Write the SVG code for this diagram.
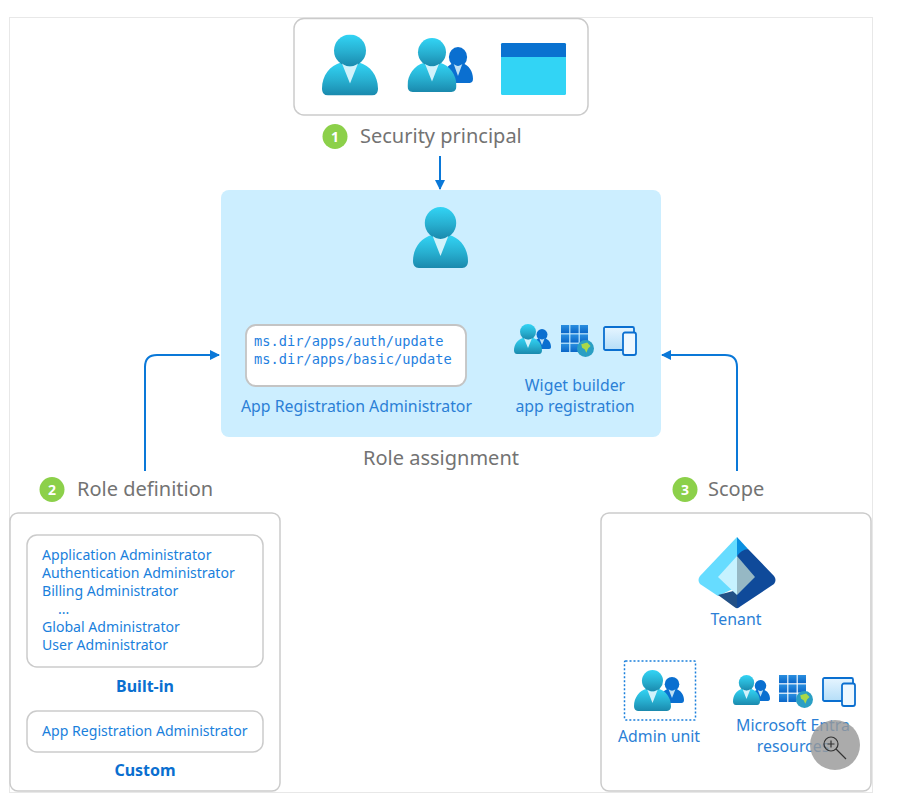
<svg xmlns="http://www.w3.org/2000/svg" xmlns:xlink="http://www.w3.org/1999/xlink" width="905" height="811" viewBox="0 0 905 811">
<style>
text{font-family:"Noto Sans","Open Sans","Liberation Sans",sans-serif}
.box{fill:#fff;stroke:#cbcbcb;stroke-width:1.500}
.h{font-size:20px;fill:#737373}
.l{font-size:15.85px;fill:#2b7fd6}
.r{font-size:14.1px;fill:#1a7fdc}
.b{font-size:16px;font-weight:700;fill:#0a6fd0;text-anchor:middle}
.m{text-anchor:middle}
.mono{font-family:"DejaVu Sans Mono","Liberation Mono",monospace;font-size:13.7px;fill:#1f7fe0}
.num{font-size:14px;font-weight:700;fill:#fff;text-anchor:middle}
.badge{fill:#8cd04a}
.conn{fill:none;stroke:#0a78d8;stroke-width:2}
</style>
<defs>
<linearGradient id="pg" x1="0" y1="0" x2="0" y2="1"><stop offset="0" stop-color="#32d4f5"/><stop offset=".55" stop-color="#27aecf"/><stop offset="1" stop-color="#1a89ad"/></linearGradient>
<linearGradient id="gg" x1="0" y1="0" x2="0" y2="1"><stop offset="0" stop-color="#2a8fe0"/><stop offset="1" stop-color="#0a66c8"/></linearGradient>
<linearGradient id="dg" x1="0" y1="0" x2="0" y2="1"><stop offset="0" stop-color="#e6f5ff"/><stop offset="1" stop-color="#b5def8"/></linearGradient>
<marker id="ah" viewBox="0 0 10 10" refX="9" refY="5" markerWidth="5" markerHeight="5" orient="auto"><path d="M0 0L10 5L0 10z" fill="#0a78d8"/></marker>
<symbol id="person" viewBox="0 0 56 61" preserveAspectRatio="none">
<path d="M0 54C0 41 8 31 19 28C24 33 32 33 37 28C48 31 56 41 56 54C56 58 54 61 50 61H6C2 61 0 58 0 54z" fill="url(#pg)"/>
<circle cx="28" cy="16" r="16" fill="url(#pg)"/>
<path d="M20 29C25 33 31 33 36 29L28 49z" fill="#d2f2fb"/>
</symbol>
<symbol id="small" viewBox="0 0 56 61" preserveAspectRatio="none">
<path d="M0 54C0 41 8 31 19 28C24 33 32 33 37 28C48 31 56 41 56 54C56 58 54 61 50 61H6C2 61 0 58 0 54z" fill="#0a6fd0"/>
<circle cx="28" cy="17" r="17" fill="#0a6fd0"/>
<path d="M20 29C25 33 31 33 36 29L28 49z" fill="#bfe0f5"/>
</symbol>
<symbol id="grid" viewBox="0 0 36 36">
<g fill="url(#gg)"><rect x="0" y="0" width="11" height="11"/><rect x="12.500" y="0" width="11" height="11"/><rect x="25" y="0" width="11" height="11"/><rect x="0" y="12.500" width="11" height="11"/><rect x="12.500" y="12.500" width="11" height="11"/><rect x="25" y="12.500" width="11" height="11"/><rect x="0" y="25" width="11" height="11"/><rect x="12.500" y="25" width="11" height="11"/><rect x="25" y="25" width="11" height="11"/></g>
</symbol>
<symbol id="globe" viewBox="0 0 20 20"><circle cx="10" cy="10" r="10" fill="#2a9fc4"/><path d="M5 5L12 3L16 7L13 10L11 15L9 11L6 9z" fill="#a8d84a"/></symbol>
<symbol id="devices" viewBox="0 0 34 30">
<rect x="1" y="1" width="30" height="23" rx="1.500" fill="url(#dg)" stroke="#0a6fd0" stroke-width="1.800"/>
<rect x="20" y="6.500" width="13" height="22.500" rx="2" fill="#eef8ff" stroke="#0a6fd0" stroke-width="1.800"/>
</symbol>
</defs>
<rect x="9.500" y="17.500" width="863" height="775" fill="#fff" stroke="#e8e8e8"/>
<g id="connectors">
<path class="conn" d="M440 156V189" marker-end="url(#ah)"/>
<path class="conn" d="M145 471V367Q145 355 157 355H219" marker-end="url(#ah)"/>
<path class="conn" d="M737 471V367Q737 355 725 355H662" marker-end="url(#ah)"/>
</g>
<g id="security-principal">
<rect class="box" x="294" y="18.500" width="294" height="96.500" rx="10"/>
<use href="#person" x="322" y="34.500" width="56" height="61"/>
<use href="#small" x="443" y="47" width="30" height="36"/>
<use href="#person" x="407.500" y="38" width="49" height="54"/>
<rect x="501" y="43" width="65" height="52" rx="1.500" fill="#32d4f5"/>
<path d="M501 44.500Q501 43 502.500 43H564.500Q566 43 566 44.500V57H501z" fill="#0a72d0"/>
<circle class="badge" cx="335" cy="136.500" r="12.500"/>
<text class="num" x="335" y="141.500">1</text>
<text class="h" x="360" y="143">Security principal</text>
</g>
<g id="role-assignment">
<rect x="221" y="190" width="440" height="247" rx="8" fill="#cceeff"/>
<use href="#person" x="413" y="207" width="55" height="61"/>
<rect x="246" y="325" width="220" height="61" rx="10" fill="#fff" stroke="#c4c4c4" stroke-width="1.800"/>
<text class="mono" x="254" y="346">ms.dir/apps/auth/update</text>
<text class="mono" x="254" y="364">ms.dir/apps/basic/update</text>
<text class="l" x="241" y="412">App Registration Administrator</text>
<use href="#small" x="533" y="329" width="18" height="20"/>
<use href="#person" x="514" y="324" width="28" height="30"/>
<use href="#grid" x="561" y="325" width="27" height="27"/>
<use href="#globe" x="577" y="340" width="17" height="17"/>
<use href="#devices" x="603" y="326" width="34" height="30"/>
<text class="l m" x="575" y="391">Wiget builder</text>
<text class="l m" x="575" y="412">app registration</text>
<text class="h m" x="441" y="465">Role assignment</text>
</g>
<g id="role-definition">
<circle class="badge" cx="52" cy="489.500" r="12.500"/>
<text class="num" x="52" y="494.500">2</text>
<text class="h" x="77" y="496">Role definition</text>
<rect class="box" x="10" y="513" width="270" height="278" rx="8"/>
<rect class="box" x="27" y="535" width="236" height="132" rx="10"/>
<text class="r" x="42" y="559.500">Application Administrator</text>
<text class="r" x="42" y="577.500">Authentication Administrator</text>
<text class="r" x="42" y="595.500">Billing Administrator</text>
<text class="r" x="58" y="613.500">...</text>
<text class="r" x="42" y="631.500">Global Administrator</text>
<text class="r" x="42" y="649.500">User Administrator</text>
<text class="b" x="145" y="692">Built-in</text>
<rect class="box" x="27" y="711" width="236" height="41" rx="10"/>
<text class="r" x="42" y="736">App Registration Administrator</text>
<text class="b" x="145" y="776">Custom</text>
</g>
<g id="scope">
<circle class="badge" cx="685" cy="489.500" r="12.500"/>
<text class="num" x="685" y="494.500">3</text>
<text class="h" x="708" y="496">Scope</text>
<rect class="box" x="601" y="513" width="270" height="278" rx="8"/>
<path d="M737 537L700 576Q697 580 700 584L718 596L737 587z" fill="#66dcff"/>
<path d="M718 595L733 606Q737 609 737 608V590z" fill="#225086"/>
<path d="M737 537L748 549L737 556z" fill="#0a8fe0"/>
<path d="M737 556Q741 550 748 549L774 576Q777 580 774 584L741 606Q737 609 737 608V595z" fill="#0f4a9a"/>
<path d="M737 556L718 577L737 595z" fill="#c6f2ff"/>
<path d="M737 556L755 577L737 595z" fill="#96b8c4"/>
<text class="l m" x="736" y="625">Tenant</text>
<rect x="624.500" y="661" width="71" height="59" rx="1" fill="none" stroke="#1a7fdc" stroke-width="1.500" stroke-dasharray="2 2"/>
<use href="#small" x="660" y="677" width="24" height="26"/>
<use href="#person" x="634" y="670" width="37" height="41"/>
<text class="l m" x="659" y="742">Admin unit</text>
<use href="#small" x="751" y="680" width="19" height="21"/>
<use href="#person" x="733" y="675" width="27" height="30"/>
<use href="#grid" x="779" y="675" width="27" height="27"/>
<use href="#globe" x="796" y="691" width="17" height="17"/>
<use href="#devices" x="822" y="677" width="34" height="30"/>
<text class="l m" x="793" y="731">Microsoft Entra</text>
<text class="l m" x="793" y="752">resources</text>
</g>
<g id="zoom-button">
<circle cx="835" cy="745" r="25" fill="#999" fill-opacity=".82"/>
<circle cx="831" cy="744" r="7" fill="none" stroke="#333" stroke-width="1.200"/>
<path d="M827.500 744H834.500M831 740.500V747.500M836 749L846 759" fill="none" stroke="#333" stroke-width="1.200"/>
</g>
</svg>
